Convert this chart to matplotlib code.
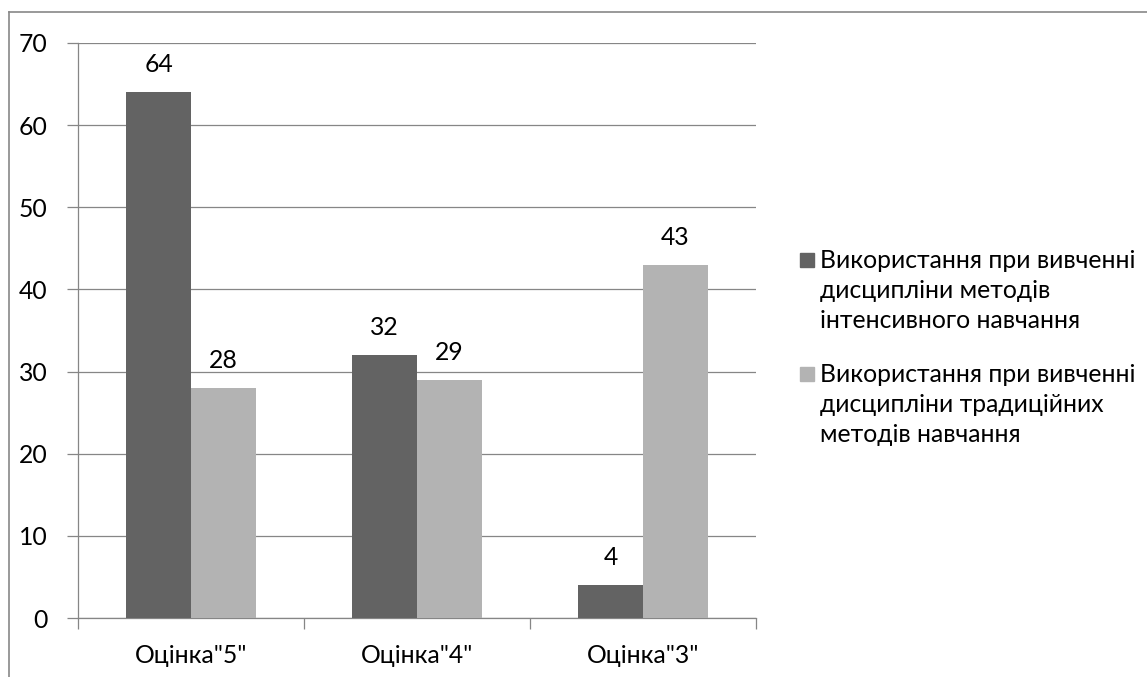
import numpy as np
import matplotlib.pyplot as plt
from matplotlib.lines import Line2D
from matplotlib.patches import Rectangle

categories = ['Оцінка"5"', 'Оцінка"4"', 'Оцінка"3"']
intensive = [64, 32, 4]
traditional = [28, 29, 43]
series_names = ['Використання при вивченні\nдисципліни методів\nінтенсивного навчання',
                'Використання при вивченні\nдисципліни традиційних\nметодів навчання']
colors = ['#636363', '#b3b3b3']

plt.rcParams['font.family'] = ['Lato', 'DejaVu Sans']
FS = 17.8

W, H = 1147, 677
fig = plt.figure(figsize=(W / 100, H / 100), dpi=100)
ax = fig.add_axes([78 / W, 1 - 618 / H, (756 - 78) / W, (618 - 43) / H])

x = np.arange(len(categories))
bw = 1 / 3.5
grid_c = '#868686'

for i, (vals, c) in enumerate(zip([intensive, traditional], colors)):
    pos = x + (i - 0.5) * bw
    bars = ax.bar(pos, vals, width=bw, color=c, zorder=3)
    for b, v in zip(bars, vals):
        ax.annotate(str(v), (b.get_x() + b.get_width() / 2, v),
                    xytext=(0, 16), textcoords='offset pixels',
                    ha='center', va='bottom', fontsize=FS)

ax.set_xlim(-0.5, 2.5)
ax.set_ylim(0, 70)
ax.set_yticks(range(0, 71, 10))
ax.yaxis.grid(True, color=grid_c, linewidth=0.9, zorder=0)
ax.set_xticks([-0.5, 0.5, 1.5, 2.5])
ax.set_xticklabels([])
ax.set_xticks(x, minor=True)
ax.set_xticklabels(categories, minor=True, fontsize=FS)
ax.tick_params(axis='x', which='minor', length=0, pad=19)
ax.tick_params(axis='x', which='major', length=8, color=grid_c, width=0.9)
ax.tick_params(axis='y', length=8, color=grid_c, width=0.9, labelsize=FS, pad=14)
for s in ['top', 'right']:
    ax.spines[s].set_visible(False)
for s in ['left', 'bottom']:
    ax.spines[s].set_color(grid_c)
    ax.spines[s].set_linewidth(0.9)

# legend
for k, (name, c) in enumerate(zip(series_names, colors)):
    y0 = 260 + k * 114
    fig.patches.append(Rectangle((800 / W, 1 - (y0 + 7) / H), 14 / W, 14 / H,
                                 transform=fig.transFigure, color=c))
    fig.text(820 / W, 1 - (y0 - 11) / H, name, fontsize=FS, va='top',
             ha='left', linespacing=1.36)

# chart border
fig.add_artist(Line2D([9 / W, 1], [1 - 12 / H, 1 - 12 / H], color='#888888', lw=1.2,
                      transform=fig.transFigure))
fig.add_artist(Line2D([9 / W, 9 / W], [0, 1 - 12 / H], color='#888888', lw=1.2,
                      transform=fig.transFigure))

fig.savefig('out.png', dpi=100)
